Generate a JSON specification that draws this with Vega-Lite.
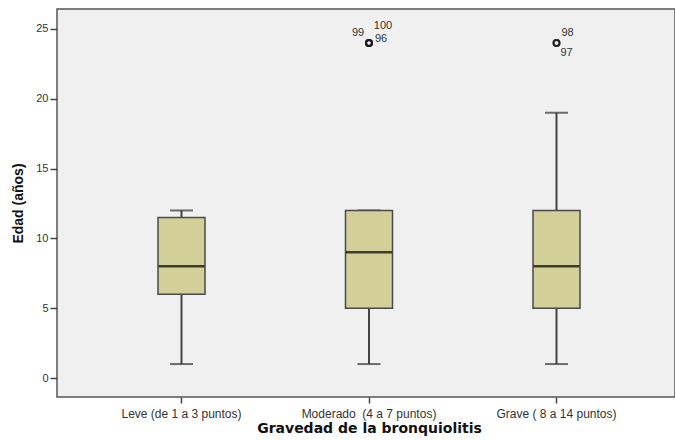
{
  "$schema": "https://vega.github.io/schema/vega-lite/v6.json",
  "width": 618,
  "height": 388,
  "autosize": "none",
  "padding": {"left": 57, "top": 9, "right": 0, "bottom": 43},
  "background": "white",
  "config": {
    "font": "Liberation Sans",
    "view": {"fill": "#f0f0f0", "stroke": "#555555", "strokeWidth": 1.5}
  },
  "datasets": {
    "boxes": [
      {"grupo": "Leve (de 1 a 3 puntos)", "min": 1, "q1": 6, "mediana": 8, "q3": 11.5, "max": 12},
      {"grupo": "Moderado \u00a0(4 a 7 puntos)", "min": 1, "q1": 5, "mediana": 9, "q3": 12, "max": 12},
      {"grupo": "Grave ( 8 a 14 puntos)", "min": 1, "q1": 5, "mediana": 8, "q3": 12, "max": 19}
    ],
    "outliers": [
      {"grupo": "Moderado \u00a0(4 a 7 puntos)", "edad": 24, "caso": "99"},
      {"grupo": "Moderado \u00a0(4 a 7 puntos)", "edad": 24, "caso": "100"},
      {"grupo": "Moderado \u00a0(4 a 7 puntos)", "edad": 24, "caso": "96"},
      {"grupo": "Grave ( 8 a 14 puntos)", "edad": 24, "caso": "98"},
      {"grupo": "Grave ( 8 a 14 puntos)", "edad": 24, "caso": "97"}
    ]
  },
  "encoding": {
    "x": {
      "field": "grupo",
      "type": "nominal",
      "sort": null,
      "scale": {
        "type": "band",
        "domain": ["Leve (de 1 a 3 puntos)", "Moderado \u00a0(4 a 7 puntos)", "Grave ( 8 a 14 puntos)"],
        "range": [30.75, 593.25],
        "paddingInner": 0,
        "paddingOuter": 0
      },
      "axis": {
        "title": "Gravedad de la bronquiolitis",
        "titleFont": "DejaVu Sans",
        "titleFontSize": 14,
        "titleFontWeight": "bold",
        "titleColor": "#111111",
        "titlePadding": 2,
        "labelAngle": 0,
        "labelFontSize": 12,
        "labelColor": "#333333",
        "labelPadding": 5,
        "tickColor": "#444444",
        "tickSize": 6,
        "tickWidth": 1.5,
        "domain": false,
        "grid": false
      }
    }
  },
  "layer": [
    {
      "data": {"name": "boxes"},
      "mark": {"type": "rule", "stroke": "#444444", "strokeWidth": 2},
      "encoding": {
        "y": {
          "field": "min",
          "type": "quantitative",
          "scale": {"domain": [-1.36, 26.43], "nice": false, "zero": false},
          "axis": {
            "title": "Edad (años)",
            "titleFontSize": 14,
            "titleFontWeight": "bold",
            "titleColor": "#111111",
            "titlePadding": 10,
            "values": [0, 5, 10, 15, 20, 25],
            "labelFontSize": 11,
            "labelColor": "#333333",
            "labelPadding": 2,
            "tickColor": "#444444",
            "tickSize": 7,
            "tickWidth": 1.5,
            "domain": false,
            "grid": false
          }
        },
        "y2": {"field": "max"}
      }
    },
    {
      "data": {"name": "boxes"},
      "mark": {"type": "tick", "color": "#333333", "size": 23, "thickness": 2},
      "encoding": {"y": {"field": "min", "type": "quantitative"}}
    },
    {
      "data": {"name": "boxes"},
      "mark": {"type": "tick", "color": "#333333", "size": 23, "thickness": 2},
      "encoding": {"y": {"field": "max", "type": "quantitative"}}
    },
    {
      "data": {"name": "boxes"},
      "mark": {"type": "bar", "size": 47, "fill": "#d3cf98", "stroke": "#4a4a4a", "strokeWidth": 1.5},
      "encoding": {
        "y": {"field": "q1", "type": "quantitative"},
        "y2": {"field": "q3"}
      }
    },
    {
      "data": {"name": "boxes"},
      "mark": {"type": "tick", "color": "#000000", "size": 46, "thickness": 2.5},
      "encoding": {"y": {"field": "mediana", "type": "quantitative"}}
    },
    {
      "data": {"name": "outliers"},
      "mark": {"type": "point", "shape": "circle", "filled": false, "stroke": "#111111", "strokeWidth": 2, "size": 36},
      "encoding": {"y": {"field": "edad", "type": "quantitative"}}
    },
    {
      "data": {"name": "outliers"},
      "transform": [{"filter": "datum.caso == '99'"}],
      "mark": {"type": "text", "fontSize": 11, "fill": "#333333", "dx": -11, "dy": -10},
      "encoding": {"y": {"field": "edad", "type": "quantitative"}, "text": {"field": "caso"}}
    },
    {
      "data": {"name": "outliers"},
      "transform": [{"filter": "datum.caso == '100'"}],
      "mark": {"type": "text", "fontSize": 11, "fill": "#333333", "dx": 14, "dy": -17},
      "encoding": {"y": {"field": "edad", "type": "quantitative"}, "text": {"field": "caso"}}
    },
    {
      "data": {"name": "outliers"},
      "transform": [{"filter": "datum.caso == '96'"}],
      "mark": {"type": "text", "fontSize": 11, "fill": "#333333", "dx": 12, "dy": -4},
      "encoding": {"y": {"field": "edad", "type": "quantitative"}, "text": {"field": "caso"}}
    },
    {
      "data": {"name": "outliers"},
      "transform": [{"filter": "datum.caso == '98'"}],
      "mark": {"type": "text", "fontSize": 11, "fill": "#333333", "dx": 11, "dy": -10},
      "encoding": {"y": {"field": "edad", "type": "quantitative"}, "text": {"field": "caso"}}
    },
    {
      "data": {"name": "outliers"},
      "transform": [{"filter": "datum.caso == '97'"}],
      "mark": {"type": "text", "fontSize": 11, "fill": "#333333", "dx": 10, "dy": 10},
      "encoding": {"y": {"field": "edad", "type": "quantitative"}, "text": {"field": "caso"}}
    }
  ]
}
